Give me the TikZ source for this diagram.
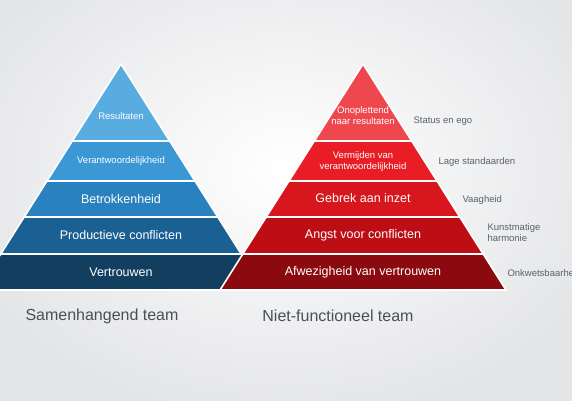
\documentclass[tikz,border=0pt]{standalone}
\usepackage{fontspec}
\setmainfont{Liberation Sans}
\usetikzlibrary{positioning}
\usepackage{xcolor}

\definecolor{bgrim}{HTML}{E4E5E7}
\definecolor{blueA}{HTML}{58ACDF}
\definecolor{blueB}{HTML}{3C98D4}
\definecolor{blueC}{HTML}{2981BF}
\definecolor{blueD}{HTML}{1B6092}
\definecolor{blueE}{HTML}{123F60}
\definecolor{redA}{HTML}{EF474E}
\definecolor{redB}{HTML}{E91D25}
\definecolor{redC}{HTML}{D7161D}
\definecolor{redD}{HTML}{BE0E15}
\definecolor{redE}{HTML}{8B0A0F}
\definecolor{sidegray}{HTML}{59616B}
\definecolor{teamgray}{HTML}{4A4F56}

\begin{document}
\begin{tikzpicture}[
    x=1pt, y=-1pt,
    band/.style={draw=white, line width=1.6pt},
    big/.style={font=\fontsize{12.5}{14}\selectfont, text=white},
    small/.style={font=\fontsize{9.5}{11}\selectfont, text=white, align=center},
    side/.style={font=\fontsize{9.5}{11}\selectfont, text=sidegray, anchor=west, align=left},
    team/.style={font=\fontsize{16}{18}\selectfont, text=teamgray}
]

% background
\useasboundingbox (0,0) rectangle (572,400);
\shade[inner color=white, outer color=bgrim] (-60,-80) rectangle (632,420);

% blue pyramid (apex 121/64, half width grows 0.6327 per unit)
\foreach \yt/\yb/\col in {64/141/blueA, 141/181/blueB, 181/217/blueC, 217/254/blueD, 254/290/blueE}
  \filldraw[band, fill=\col]
    ({121-0.6327*(\yt-64)},\yt) -- ({121+0.6327*(\yt-64)},\yt)
    -- ({121+0.6327*(\yb-64)},\yb) -- ({121-0.6327*(\yb-64)},\yb) -- cycle;

% red pyramid, in front
\foreach \yt/\yb/\col in {64/141/redA, 141/181/redB, 181/217/redC, 217/254/redD, 254/290/redE}
  \filldraw[band, fill=\col]
    ({363-0.6327*(\yt-64)},\yt) -- ({363+0.6327*(\yt-64)},\yt)
    -- ({363+0.6327*(\yb-64)},\yb) -- ({363-0.6327*(\yb-64)},\yb) -- cycle;

% blue labels
\node[small] (res) at (121,116) {Resultaten};
\node[small] (ver) at (121,161) {Verantwoordelijkheid};
\node[big] (bet) at (121,199) {Betrokkenheid};
\node[big] (pro) at (121,235) {Productieve conflicten};
\node[big] (vtr) at (121,272) {Vertrouwen};

% red labels
\node[small] (onp) at (363,116) {Onoplettend\\naar resultaten};
\node[small] (vmd) at (363,162) {Vermijden van\\verantwoordelijkheid};
\node[big] (geb) at (363,198) {Gebrek aan inzet};
\node[big] (ang) at (363,235) {Angst voor conflicten};
\node[big] (afw) at (363,272) {Afwezigheid van vertrouwen};

% side notes
\node[side] (sta) at (410,121) {Status en ego};
\node[side] (lag) at (435,162) {Lage standaarden};
\node[side] (vaa) at (459,200) {Vaagheid};
\node[side] (kun) at (484,233) {Kunstmatige\\harmonie};
\node[side] (onk) at (504,273) {Onkwetsbaarheid};

% team names
\node[team] (sam) at (102,316) {Samenhangend team};
\node[team] (nft) at (338,316) {Niet-functioneel team};
\end{tikzpicture}
\end{document}
